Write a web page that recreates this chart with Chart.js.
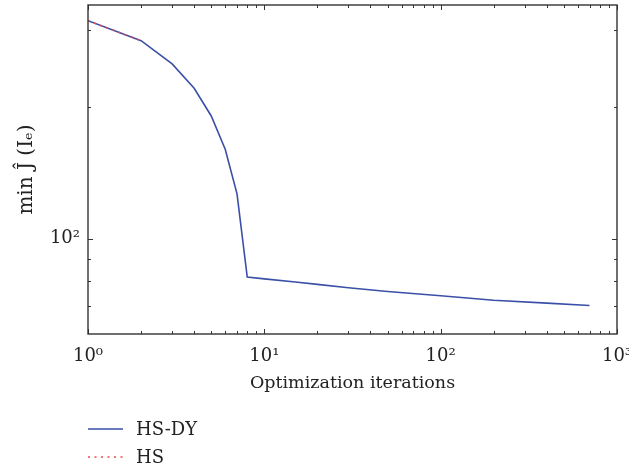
<!DOCTYPE html>
<html><head><meta charset="utf-8">
<script src="https://cdn.jsdelivr.net/npm/chart.js@4.4.1/dist/chart.umd.min.js"></script>
<style>html,body{margin:0;padding:0;background:#fff}#wrap{width:629px;height:472px}</style>
</head><body><div id="wrap"><canvas id="c" width="629" height="472"></canvas></div>
<script>
const iterations = [1, 2, 3, 4, 5, 6, 7, 8, 10, 15, 20, 30, 50, 100, 200, 400, 698];
const hsdyValues = [315.4, 283.9, 251.1, 220.9, 190.9, 160.2, 126.6, 81.7, 80.9, 79.6, 78.6, 77.2, 75.7, 74.0, 72.3, 71.2, 70.3];
const hsIterations = [1, 2];
const hsValues = [315.4, 283.9];
const seriesNames = ['HS-DY', 'HS'];
const xTickValues = [1, 10, 100, 1000];
const xTickLabels = ['10⁰', '10¹', '10²', '10³'];
const xMinorTicks = [2,3,4,5,6,7,8,9,20,30,40,50,60,70,80,90,200,300,400,500,600,700,800,900];
const yTickValues = [100];
const yTickLabels = ['10²'];
const yMinorTicks = [70, 80, 90, 200, 300];
const xTitle = 'Optimization iterations';
const yTitle = 'min Ĵ (Iₑ)';

const FONT = "'DejaVu Serif', 'Liberation Serif', serif";
const TEXT = '#222';

const framePlugin = {
  id: 'frame',
  afterDraw(chart) {
    const {ctx, chartArea: {left, right, top, bottom}, scales: {x, y}} = chart;
    ctx.save();
    ctx.strokeStyle = '#333';
    ctx.lineWidth = 1;
    const seg = (a, b, c, d) => { ctx.beginPath(); ctx.moveTo(a, b); ctx.lineTo(c, d); ctx.stroke(); };
    const xt = (vals, len) => vals.forEach(v => {
      const p = Math.round(x.getPixelForValue(v)) + 0.5;
      seg(p, bottom, p, bottom - len); seg(p, top, p, top + len);
    });
    const yt = (vals, len) => vals.forEach(v => {
      const p = Math.round(y.getPixelForValue(v)) + 0.5;
      seg(left, p, left + len, p); seg(right, p, right - len, p);
    });
    xt(xTickValues, 5); xt(xMinorTicks, 3);
    yt(yTickValues, 5); yt(yMinorTicks, 3);
    ctx.lineWidth = 1.4;
    ctx.strokeRect(left, top, right - left, bottom - top);
    ctx.restore();
  }
};

const legendPlugin = {
  id: 'customLegend',
  afterDraw(chart) {
    const {ctx} = chart;
    ctx.save();
    ctx.font = '18px ' + FONT;
    ctx.textBaseline = 'middle';
    ctx.fillStyle = TEXT;
    chart.data.datasets.forEach((ds, i) => {
      const yy = 429 + i * 28;
      ctx.strokeStyle = ds.borderColor;
      ctx.lineWidth = ds.borderWidth;
      ctx.setLineDash(ds.borderDash || []);
      ctx.beginPath(); ctx.moveTo(88, yy); ctx.lineTo(123, yy); ctx.stroke();
      ctx.setLineDash([]);
      ctx.fillText(ds.label, 136, yy + 1);
    });
    ctx.restore();
  }
};

new Chart(document.getElementById('c'), {
  type: 'scatter',
  data: {
    datasets: [
      {
        label: seriesNames[0],
        data: iterations.map((v, i) => ({x: v, y: hsdyValues[i]})),
        showLine: true, borderColor: '#3a50a8', borderWidth: 1.6,
        pointRadius: 0, tension: 0, order: 1
      },
      {
        label: seriesNames[1],
        data: hsIterations.map((v, i) => ({x: v, y: hsValues[i]})),
        showLine: true, borderColor: '#f04848', borderWidth: 1.6, borderDash: [2, 4.5],
        pointRadius: 0, tension: 0, order: 0
      }
    ]
  },
  options: {
    responsive: false,
    animation: false,
    layout: {padding: {left: 0, top: 5, right: 12, bottom: 68}},
    plugins: {legend: {display: false}, tooltip: {enabled: false}},
    scales: {
      x: {
        type: 'logarithmic', min: 1, max: 1000,
        grid: {display: false, drawTicks: false},
        border: {display: false},
        afterBuildTicks: s => { s.ticks = xTickValues.map(v => ({value: v})); },
        afterFit: s => { s.height = 70; s.paddingLeft = 0; s.paddingRight = 0; },
        ticks: {
          autoSkip: false, maxRotation: 0, padding: 12, color: TEXT,
          font: {family: FONT, size: 18},
          callback: v => { const i = xTickValues.indexOf(v); return i >= 0 ? xTickLabels[i] : ''; }
        },
        title: {display: true, text: xTitle, color: TEXT, font: {family: FONT, size: 17.5}, padding: {top: 0, bottom: 10}}
      },
      y: {
        type: 'logarithmic', min: 60.5, max: 342.6,
        grid: {display: false, drawTicks: false},
        border: {display: false},
        afterBuildTicks: s => { s.ticks = yTickValues.map(v => ({value: v})); },
        afterFit: s => { s.width = 88; s.paddingTop = 0; s.paddingBottom = 0; },
        ticks: {
          autoSkip: false, padding: 8, color: TEXT,
          font: {family: FONT, size: 18},
          callback: v => { const i = yTickValues.indexOf(v); return i >= 0 ? yTickLabels[i] : ''; }
        },
        title: {display: true, text: yTitle, color: TEXT, font: {family: FONT, size: 20}, padding: {top: 15, bottom: 0}}
      }
    }
  },
  plugins: [framePlugin, legendPlugin]
});
</script>
</body></html>
